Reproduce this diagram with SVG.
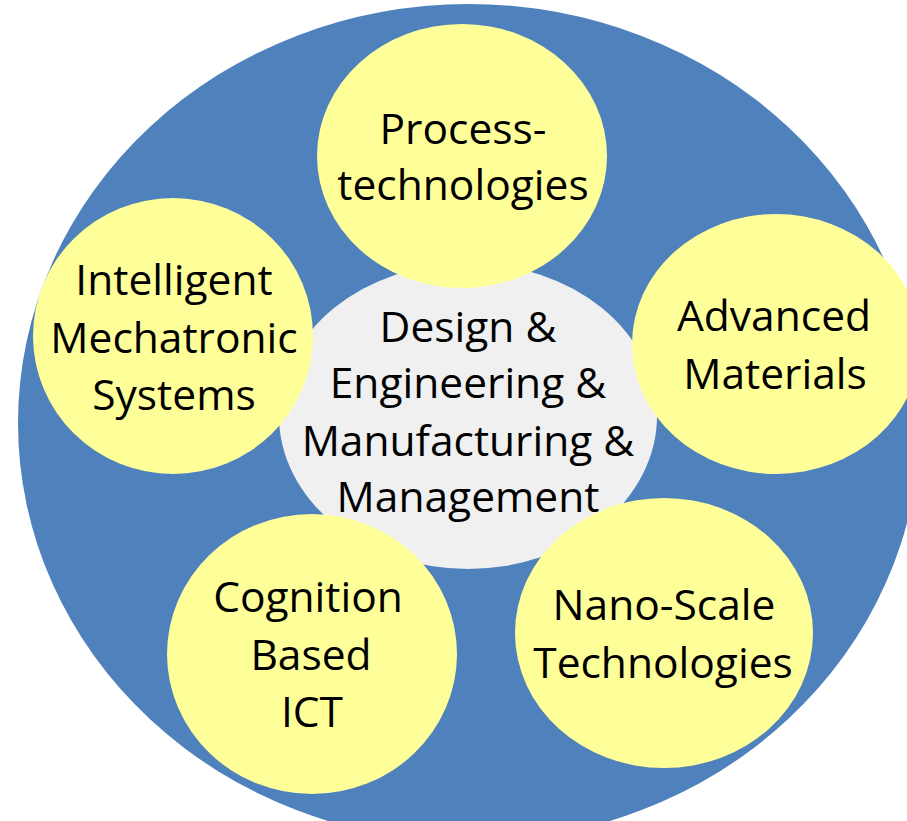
<svg xmlns="http://www.w3.org/2000/svg" width="907" height="821" viewBox="0 0 907 821">
<style>
.t{font-family:"Open Sans","Noto Sans",sans-serif;font-size:42.5px;fill:#000;text-anchor:middle}
.y{fill:#FFFF99}
</style>
<rect width="907" height="821" fill="#fff"/>
<g id="outer"><ellipse cx="469" cy="423" rx="451" ry="419" fill="#4F81BD"/></g>
<g id="connectors"></g>
<g id="center">
<ellipse cx="468" cy="416" rx="189" ry="153" fill="#F0F0F0"/>
<text class="t" x="468" y="342">Design &amp;</text>
<text class="t" x="468" y="398">Engineering &amp;</text>
<text class="t" x="468" y="456">Manufacturing &amp;</text>
<text class="t" x="468" y="512">Management</text>
</g>
<g id="process">
<ellipse class="y" cx="462" cy="156" rx="145" ry="132"/>
<text class="t" x="463" y="144">Process-</text>
<text class="t" x="463" y="200">technologies</text>
</g>
<g id="intelligent">
<ellipse class="y" cx="173" cy="336" rx="140" ry="138"/>
<text class="t" x="174" y="295">Intelligent</text>
<text class="t" x="174" y="353">Mechatronic</text>
<text class="t" x="174" y="410">Systems</text>
</g>
<g id="advanced">
<ellipse class="y" cx="776" cy="344" rx="144" ry="130"/>
<text class="t" x="774" y="331">Advanced</text>
<text class="t" x="775" y="389">Materials</text>
</g>
<g id="cognition">
<ellipse class="y" cx="312" cy="654" rx="145" ry="140"/>
<text class="t" x="308" y="612">Cognition</text>
<text class="t" x="311" y="670">Based</text>
<text class="t" x="312" y="727">ICT</text>
</g>
<g id="nano">
<ellipse class="y" cx="664" cy="633" rx="149" ry="135"/>
<text class="t" x="664" y="620">Nano-Scale</text>
<text class="t" x="663" y="678">Technologies</text>
</g>
</svg>
